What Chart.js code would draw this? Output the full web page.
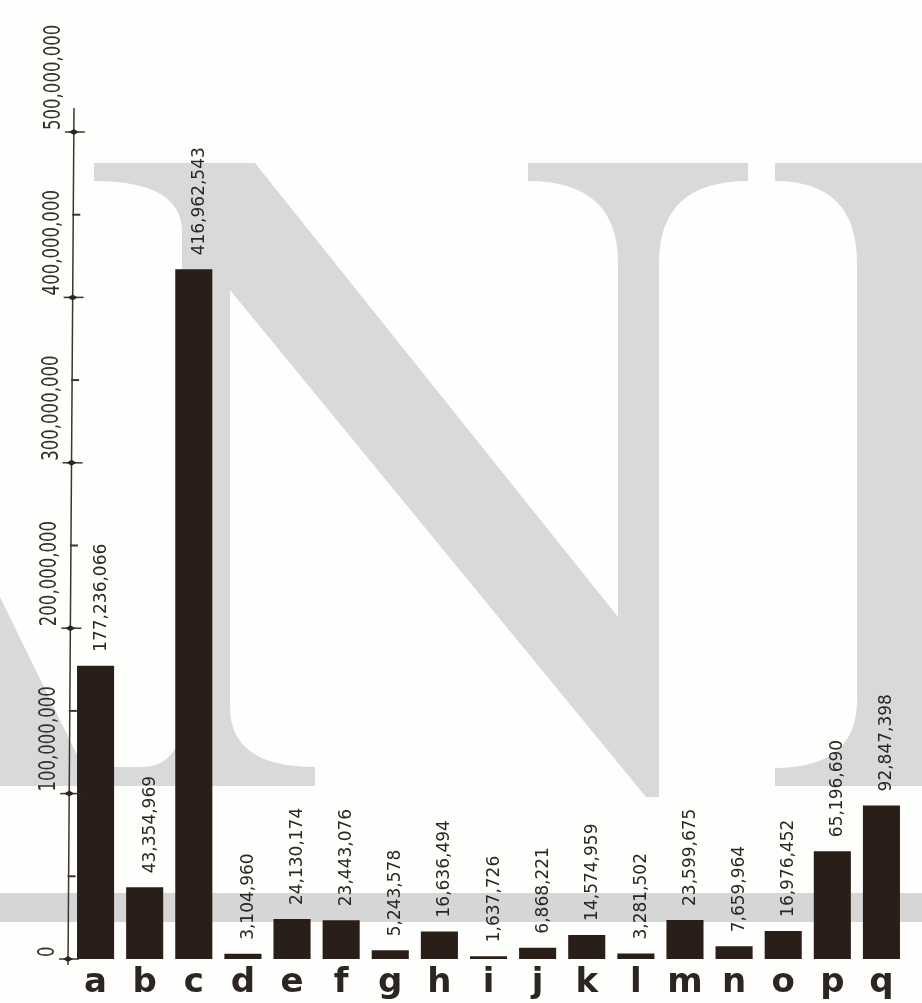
<!DOCTYPE html>
<html><head><meta charset="utf-8">
<script src="https://cdn.jsdelivr.net/npm/chart.js@4/dist/chart.umd.min.js"></script>
<style>html,body{margin:0;padding:0;background:#fefefc;} canvas{display:block;}</style>
</head><body>
<canvas id="c" width="922" height="1003"></canvas>
<script>
const categories = ['a','b','c','d','e','f','g','h','i','j','k','l','m','n','o','p','q'];
const values = [177236066, 43354969, 416962543, 3104960, 24130174, 23443076, 5243578, 16636494, 1637726, 6868221, 14574959, 3281502, 23599675, 7659964, 16976452, 65196690, 92847398];
const yMajorTicks = [0, 100000000, 200000000, 300000000, 400000000, 500000000];
const yMinorTicks = [50000000, 150000000, 250000000, 350000000, 450000000];
const yTickLabels = ['0', '100,000,000', '200,000,000', '300,000,000', '400,000,000', '500,000,000'];

const fmt = v => v.toLocaleString('en-US');

const bgPlugin = {
  id: 'bg',
  beforeDraw(chart) {
    const ctx = chart.ctx;
    ctx.save();
    ctx.fillStyle = '#fefefc';
    ctx.fillRect(0, 0, chart.width, chart.height);
    ctx.fillStyle = '#d9d9d9';
    // big serif N watermark
    ctx.beginPath();
    ctx.moveTo(94, 163);
    ctx.lineTo(255, 163);
    ctx.lineTo(618, 617);
    ctx.lineTo(618, 263);
    ctx.quadraticCurveTo(618, 181, 528, 181);
    ctx.lineTo(528, 163);
    ctx.lineTo(748, 163);
    ctx.lineTo(748, 181);
    ctx.quadraticCurveTo(659, 181, 659, 263);
    ctx.lineTo(659, 797);
    ctx.lineTo(646, 797);
    ctx.lineTo(230, 290);
    ctx.lineTo(230, 707);
    ctx.quadraticCurveTo(230, 767, 315, 767);
    ctx.lineTo(315, 786);
    ctx.lineTo(0, 786);
    ctx.lineTo(0, 597);
    ctx.lineTo(78, 757);
    ctx.quadraticCurveTo(86, 767, 110, 767);
    ctx.lineTo(140, 767);
    ctx.quadraticCurveTo(182, 767, 182, 715);
    ctx.lineTo(182, 232);
    ctx.quadraticCurveTo(182, 181, 94, 181);
    ctx.closePath();
    ctx.fill();
    // right letter stem
    ctx.beginPath();
    ctx.moveTo(775, 163);
    ctx.lineTo(922, 163);
    ctx.lineTo(922, 786);
    ctx.lineTo(775, 786);
    ctx.lineTo(775, 768);
    ctx.quadraticCurveTo(857, 768, 857, 700);
    ctx.lineTo(857, 263);
    ctx.quadraticCurveTo(857, 181, 775, 181);
    ctx.closePath();
    ctx.fill();
    // horizontal band
    ctx.fillStyle = '#d6d6d6';
    ctx.fillRect(0, 893, chart.width, 29);
    ctx.restore();
  }
};

const labelPlugin = {
  id: 'valueLabels',
  afterDatasetsDraw(chart) {
    const ctx = chart.ctx;
    const meta = chart.getDatasetMeta(0);
    ctx.save();
    ctx.font = '17px "DejaVu Sans"';
    ctx.fillStyle = '#2a2622';
    ctx.textAlign = 'left';
    ctx.textBaseline = 'alphabetic';
    meta.data.forEach((bar, i) => {
      ctx.save();
      ctx.translate(bar.x + 10, bar.y - 14);
      ctx.rotate(-Math.PI / 2);
      ctx.fillText(fmt(values[i]), 0, 0);
      ctx.restore();
    });
    ctx.restore();
  }
};

const axisPlugin = {
  id: 'yAxisDraw',
  afterDraw(chart) {
    const ctx = chart.ctx;
    const y = chart.scales.y;
    const yTop = y.getPixelForValue(yMajorTicks[yMajorTicks.length - 1]) - 24;
    const yBot = y.getPixelForValue(0) + 6;
    const ax = py => 68 + (yBot - py) / (yBot - yTop) * 6;
    ctx.save();
    ctx.strokeStyle = '#3a3632';
    ctx.fillStyle = '#2a2622';
    ctx.lineWidth = 1.5;
    ctx.beginPath();
    ctx.moveTo(ax(yTop), yTop);
    ctx.lineTo(ax(yBot), yBot);
    ctx.stroke();
    yMinorTicks.forEach(v => {
      const py = y.getPixelForValue(v), x = ax(py);
      ctx.lineWidth = 2;
      ctx.beginPath();
      ctx.moveTo(x - 1, py);
      ctx.lineTo(x + 7, py);
      ctx.stroke();
    });
    yMajorTicks.forEach((v, i) => {
      const py = y.getPixelForValue(v), x = ax(py);
      ctx.lineWidth = 1.5;
      ctx.beginPath();
      ctx.moveTo(x - 9, py);
      ctx.lineTo(x + 11, py);
      ctx.stroke();
      ctx.beginPath();
      ctx.moveTo(x - 5, py);
      ctx.lineTo(x, py - 3);
      ctx.lineTo(x + 5, py);
      ctx.lineTo(x, py + 3);
      ctx.closePath();
      ctx.fill();
      ctx.save();
      ctx.translate(x - 14, py - 2);
      ctx.rotate(-Math.PI / 2);
      ctx.scale(0.72, 1);
      ctx.font = '23px "DejaVu Sans"';
      ctx.fillStyle = '#35302b';
      ctx.textAlign = 'left';
      ctx.textBaseline = 'alphabetic';
      ctx.fillText(yTickLabels[i], 0, 0);
      ctx.restore();
    });
    ctx.restore();
  }
};

new Chart(document.getElementById('c'), {
  type: 'bar',
  data: {
    labels: categories,
    datasets: [{
      data: values,
      backgroundColor: '#2a1f18',
      borderWidth: 0,
      barPercentage: 0.755,
      categoryPercentage: 1
    }]
  },
  options: {
    responsive: false,
    animation: false,
    layout: { padding: { left: 71, right: 16, top: 132, bottom: 0 } },
    plugins: { legend: { display: false }, tooltip: { enabled: false } },
    scales: {
      x: {
        grid: { display: false, drawTicks: false },
        border: { display: false },
        ticks: {
          color: '#2b2622',
          font: { family: 'DejaVu Sans', weight: 'bold', size: 34 },
          padding: 4,
          maxRotation: 0,
          autoSkip: false
        },
        afterFit: s => { s.height = 44; }
      },
      y: { display: false, min: 0, max: 500000000 }
    }
  },
  plugins: [bgPlugin, labelPlugin, axisPlugin]
});
</script>
</body></html>
